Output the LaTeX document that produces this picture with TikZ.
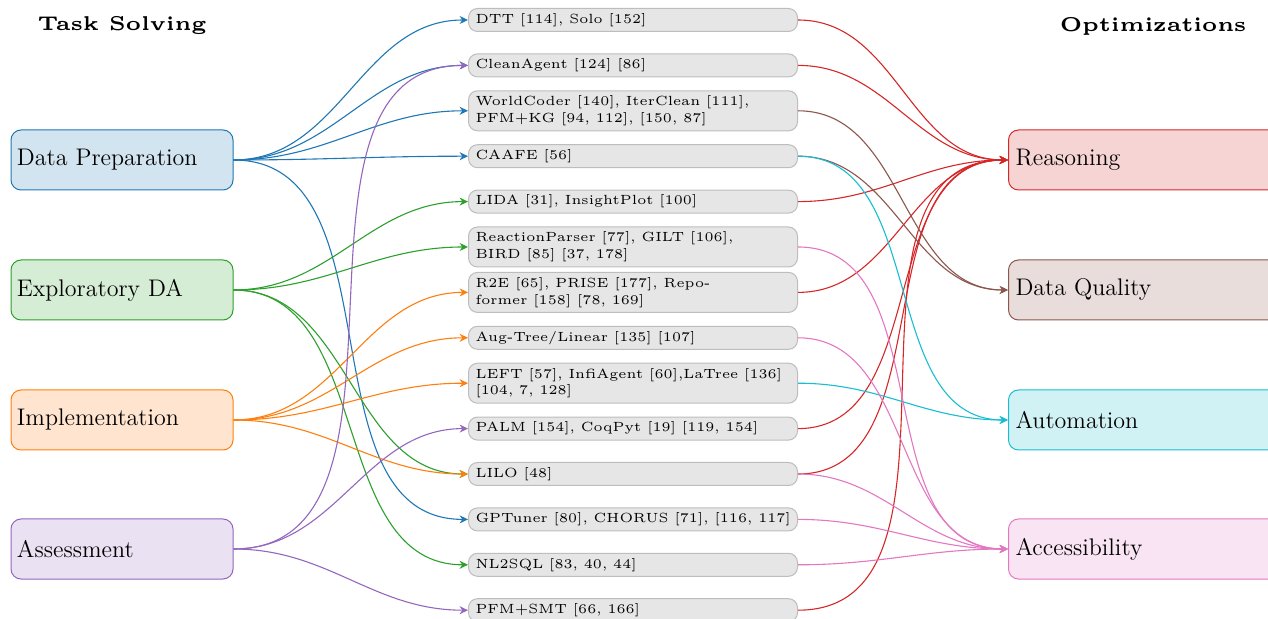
\documentclass[tikz,border=0pt]{standalone}
\usepackage{graphicx}
\usetikzlibrary{arrows.meta}
\definecolor{tblue}{HTML}{1F77B4}
\definecolor{torange}{HTML}{FF7F0E}
\definecolor{tgreen}{HTML}{2CA02C}
\definecolor{tred}{HTML}{D62728}
\definecolor{tpurple}{HTML}{9467BD}
\definecolor{tbrown}{HTML}{8C564B}
\definecolor{tpink}{HTML}{E377C2}
\definecolor{tcyan}{HTML}{17BECF}
\definecolor{midfill}{HTML}{E6E6E6}
\definecolor{midborder}{HTML}{BDBDBD}
\newcommand{\mtxt}[1]{\scalebox{1.33}{\fontsize{5}{6}\selectfont #1}}
\newcommand{\ttxt}[1]{\scalebox{2.0}{\fontsize{5}{6}\selectfont\bfseries #1}}
\tikzset{
  catbox/.style={draw=#1, fill=#1!20, rounded corners=5pt, line width=0.5pt,
    minimum height=30pt, text width=105pt, inner xsep=3pt, align=left,
    font=\fontsize{12}{14.4}\selectfont},
  optbox/.style={draw=#1, fill=#1!20, rounded corners=5pt, line width=0.5pt,
    minimum height=30pt, text width=150pt, inner xsep=3.5pt, align=left,
    anchor=west, font=\fontsize{12}{14.4}\selectfont},
  midbox/.style={draw=midborder, fill=midfill, rounded corners=4.5pt, line width=0.5pt,
    minimum height=11.5pt, text width=157.5pt, inner xsep=3.5pt, inner ysep=1.5pt,
    align=left, anchor=west, font=\fontsize{6.6}{8.35}\selectfont},
  midtwo/.style={midbox, minimum height=20pt},
  conn/.style={draw=#1, line width=0.55pt, -{Stealth[length=4.2pt,width=4pt]}},
  headline/.style={inner sep=0pt}
}
\begin{document}
\begin{tikzpicture}[x=0.5pt,y=-0.5pt]
\clip (0,0) rectangle (1268,619);
% titles
\node[headline] (tleft) at (122,26) {\ttxt{Task Solving}};
\node[headline] (tright) at (1153,26) {\ttxt{Optimizations}};
% left categories
\node[catbox=tblue] (dp) at (122,160) {Data Preparation};
\node[catbox=tgreen] (eda) at (122,290) {Exploratory DA};
\node[catbox=torange] (impl) at (122,420) {Implementation};
\node[catbox=tpurple] (asm) at (122,549) {Assessment};
% right categories
\node[optbox=tred] (rea) at (1008,160) {Reasoning};
\node[optbox=tbrown] (dq) at (1008,290) {Data Quality};
\node[optbox=tcyan] (auto) at (1008,420) {Automation};
\node[optbox=tpink] (acc) at (1008,549) {Accessibility};
% middle methods
\node[midbox] (m1) at (468,20) {\mtxt{DTT [114], Solo [152]}};
\node[midbox] (m2) at (468,65.4) {\mtxt{CleanAgent [124] [86]}};
\node[midtwo] (m3) at (468,110.8) {\mtxt{WorldCoder [140], IterClean [111],}\\\mtxt{PFM+KG [94, 112], [150, 87]}};
\node[midbox] (m4) at (468,156.2) {\mtxt{CAAFE [56]}};
\node[midbox] (m5) at (468,201.6) {\mtxt{LIDA [31], InsightPlot [100]}};
\node[midtwo] (m6) at (468,247) {\mtxt{ReactionParser [77], GILT [106],}\\\mtxt{BIRD [85] [37, 178]}};
\node[midtwo] (m7) at (468,292.4) {\mtxt{R2E [65], PRISE [177], Repo-}\\\mtxt{former [158] [78, 169]}};
\node[midbox] (m8) at (468,337.8) {\mtxt{Aug-Tree/Linear [135] [107]}};
\node[midtwo] (m9) at (468,383.2) {\mtxt{LEFT [57], InfiAgent [60],LaTree [136]}\\\mtxt{[104, 7, 128]}};
\node[midbox] (m10) at (468,428.6) {\mtxt{PALM [154], CoqPyt [19] [119, 154]}};
\node[midbox] (m11) at (468,474) {\mtxt{LILO [48]}};
\node[midbox] (m12) at (468,519.4) {\mtxt{GPTuner [80], CHORUS [71], [116, 117]}};
\node[midbox] (m13) at (468,564.8) {\mtxt{NL2SQL [83, 40, 44]}};
\node[midbox] (m14) at (468,610.2) {\mtxt{PFM+SMT [66, 166]}};
% task solving -> methods
\foreach \t in {m1,m2,m3,m4,m12}
  \draw[conn=tblue] (dp.east) to[out=0,in=180] (\t.west);
\foreach \t in {m5,m6,m11,m13}
  \draw[conn=tgreen] (eda.east) to[out=0,in=180] (\t.west);
\foreach \t in {m7,m8,m9,m11}
  \draw[conn=torange] (impl.east) to[out=0,in=180] (\t.west);
\foreach \t in {m2,m10,m14}
  \draw[conn=tpurple] (asm.east) to[out=0,in=180] (\t.west);
% methods -> optimizations
\foreach \s in {m1,m2,m5,m7,m10,m11,m14}
  \draw[conn=tred] (\s.east) to[out=0,in=180] (rea.west);
\foreach \s in {m3,m4}
  \draw[conn=tbrown] (\s.east) to[out=0,in=180] (dq.west);
\foreach \s in {m4,m9}
  \draw[conn=tcyan] (\s.east) to[out=0,in=180] (auto.west);
\foreach \s in {m6,m8,m11,m12,m13}
  \draw[conn=tpink] (\s.east) to[out=0,in=180] (acc.west);
\end{tikzpicture}
\end{document}
